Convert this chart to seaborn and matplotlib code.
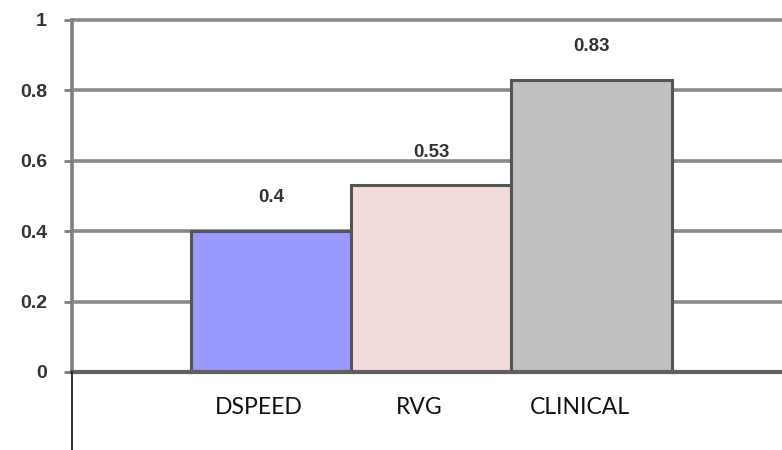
import matplotlib
matplotlib.use("Agg")
import matplotlib.pyplot as plt
import matplotlib.transforms as mtransforms
from matplotlib.lines import Line2D
import seaborn as sns
import pandas as pd

# Data
methods = ["DSPEED", "RVG", "CLINICAL"]
scores = [0.4, 0.53, 0.83]
bar_colors = ["#9999FF", "#F2DCDB", "#C0C0C0"]
y_ticks = [0, 0.2, 0.4, 0.6, 0.8, 1]
y_tick_labels = ["0", "0.2", "0.4", "0.6", "0.8", "1"]

df = pd.DataFrame({"method": methods, "score": scores})

sns.set_theme(style="white")
plt.rcParams["font.family"] = ["Liberation Sans", "DejaVu Sans"]

fig = plt.figure(figsize=(7.82, 4.5), dpi=100)
ax = fig.add_axes([72 / 782, 78 / 450, 1 - 72 / 782, 352 / 450])

sns.barplot(data=df, x="method", y="score", hue="method", palette=bar_colors,
            saturation=1, width=1.0, edgecolor="#555555", linewidth=2.2,
            legend=False, ax=ax, zorder=3)

ax.set_xlim(-1.244, 3.19)
ax.set_ylim(0, 1)
ax.set_xlabel("")
ax.set_ylabel("")

# Horizontal gridlines
ax.set_yticks(y_ticks)
ax.set_yticklabels(y_tick_labels, fontsize=14, fontweight="bold", color="#333333")
ax.yaxis.grid(True, color="#8a8a8a", linewidth=2.6, zorder=0)
for gl in ax.get_ygridlines():
    gl.set_clip_on(False)
ax.set_axisbelow(True)
ax.tick_params(axis="y", length=6, width=2, color="#808080", pad=12, left=True)

# Category labels under the axis
ax.set_xticks(range(len(methods)))
ax.set_xticklabels(methods, fontsize=16.5, color="#111111", family=["Lato", "DejaVu Sans"])
ax.tick_params(axis="x", length=0, pad=18)
shift = mtransforms.ScaledTranslation(-12 / 100, 0, fig.dpi_scale_trans)
for lbl in ax.get_xticklabels():
    lbl.set_transform(lbl.get_transform() + shift)

# Spines
for side in ["top", "right"]:
    ax.spines[side].set_visible(False)
ax.spines["left"].set_color("#808080")
ax.spines["left"].set_linewidth(2.6)
ax.spines["bottom"].set_color("#606060")
ax.spines["bottom"].set_linewidth(3)
ax.spines["bottom"].set_zorder(4)

# Value labels above each bar
for i, v in enumerate(scores):
    ax.annotate(f"{v:g}", xy=(i, v), xytext=(0, 24), textcoords="offset points",
                ha="center", va="center", fontsize=13.5, fontweight="bold",
                color="#333333")

# Frame line below the plot area
fig.add_artist(Line2D([72 / 782, 72 / 782], [0, 78 / 450], color="#222222",
                      linewidth=1.3, transform=fig.transFigure))

fig.savefig("out.png", dpi=100)
